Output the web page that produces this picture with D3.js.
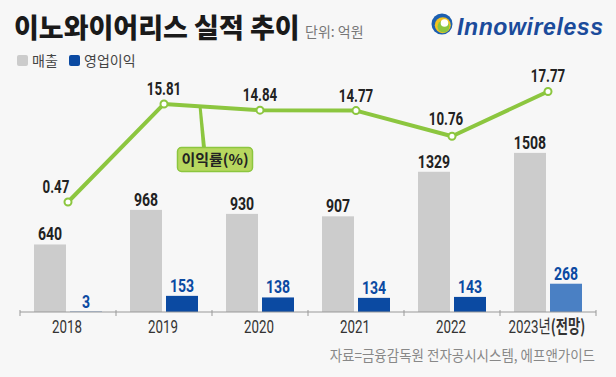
<!DOCTYPE html>
<html>
<head>
<meta charset="utf-8">
<script src="https://cdn.jsdelivr.net/npm/d3@7"></script>
<style>
  body { margin: 0; background: #f7f7f7; }
  svg { display: block; }
  .num { font-family: "Roboto", sans-serif; font-weight: 700; }
  .kr { font-family: "Noto Sans CJK KR", "Noto Sans", sans-serif; }
</style>
</head>
<body>
<div id="chart"></div>
<script>
// data
var years = ["2018", "2019", "2020", "2021", "2022", "2023"];
var yearLabels = ["2018", "2019", "2020", "2021", "2022", "2023"];
var sales = [640, 968, 930, 907, 1329, 1508];
var opIncome = [3, 153, 138, 134, 143, 268];
var margin = [0.47, 15.81, 14.84, 14.77, 10.76, 17.77];

var W = 616, H = 377;
var baseY = 312;
var squeeze = 0.74;

var svg = d3.select("#chart").append("svg")
    .attr("width", W)
    .attr("height", H);

svg.append("rect").attr("width", W).attr("height", H).attr("fill", "#f7f7f7");

// condensed text: scale horizontally around its anchor point
function condText(x0, y0, s) {
    return svg.append("g")
        .attr("transform", "translate(" + x0 + "," + y0 + ") scale(" + s + ",1)")
        .append("text");
}

// title
svg.append("text")
    .attr("class", "kr")
    .attr("x", 14).attr("y", 38)
    .attr("font-size", 27).attr("font-weight", 900)
    .attr("fill", "#1a1a1a")
    .text("이노와이어리스 실적 추이");

svg.append("text")
    .attr("class", "kr")
    .attr("x", 305).attr("y", 37)
    .attr("font-size", 14)
    .attr("fill", "#777")
    .text("단위: 억원");

// legend
var legend = [["매출", "#cccccc", 17], ["영업이익", "#0b4aa2", 69]];
legend.forEach(function(d) {
    svg.append("rect")
        .attr("x", d[2]).attr("y", 55).attr("width", 11).attr("height", 11)
        .attr("rx", 2).attr("fill", d[1]);
    svg.append("text")
        .attr("class", "kr")
        .attr("x", d[2] + 15).attr("y", 65.5)
        .attr("font-size", 14).attr("fill", "#444")
        .text(d[0]);
});

// logo
var logo = svg.append("g").attr("transform", "translate(442,24)");
logo.append("circle").attr("r", 10.5).attr("fill", "#1c5fb0");
logo.append("circle").attr("r", 8).attr("cx", 0.8).attr("cy", 1.2).attr("fill", "#f2c320");
logo.append("circle").attr("r", 6).attr("cx", 1.5).attr("cy", 2.5).attr("fill", "#8cc63f");
logo.append("circle").attr("r", 3.8).attr("cx", 2.5).attr("cy", -1).attr("fill", "#ffffff");
svg.append("text")
    .attr("x", 457).attr("y", 35)
    .attr("font-family", "Liberation Sans, Arial, sans-serif")
    .attr("font-size", 23).attr("font-weight", 700).attr("font-style", "italic")
    .attr("fill", "#1b4b9b")
    .attr("textLength", 146)
    .text("Innowireless");

// scales
var x = d3.scaleBand().domain(years).range([20, 596]);
var y = d3.scaleLinear().domain([0, 1600]).range([baseY, baseY - 168.8]);
var yl = d3.scaleLinear().domain([0, 20]).range([205, 77.2]);

function cx(d) { return x(d) + x.bandwidth() / 2; }

// bars
svg.selectAll(".sale").data(years).enter().append("rect")
    .attr("x", function(d) { return cx(d) - 34; })
    .attr("width", 32)
    .attr("y", function(d, i) { return y(sales[i]); })
    .attr("height", function(d, i) { return baseY - y(sales[i]); })
    .attr("fill", "#cccccc");

svg.selectAll(".op").data(years).enter().append("rect")
    .attr("x", function(d) { return cx(d) + 2; })
    .attr("width", 32)
    .attr("y", function(d, i) { return y(opIncome[i]); })
    .attr("height", function(d, i) { return baseY - y(opIncome[i]); })
    .attr("fill", function(d, i) { return i === 5 ? "#4a80c4" : "#0b4aa2"; });

years.forEach(function(d, i) {
    condText(cx(d) - 18, y(sales[i]) - 4, squeeze)
        .attr("class", "num")
        .attr("text-anchor", "middle")
        .attr("font-size", 19).attr("fill", "#222")
        .text(sales[i]);
    condText(cx(d) + 18, y(opIncome[i]) - 4, squeeze)
        .attr("class", "num")
        .attr("text-anchor", "middle")
        .attr("font-size", 19).attr("fill", "#0b4aa2")
        .text(opIncome[i]);
});

// x axis
var xAxis = d3.axisBottom(x).tickSize(0).tickFormat("");
var ax = svg.append("g").attr("transform", "translate(0," + baseY + ")").call(xAxis);
ax.select(".domain").attr("stroke", "#999").attr("d", "M20,0H596");
var tickPos = years.map(function(d) { return x(d); }).concat([596]);
ax.selectAll(".tk").data(tickPos).enter().append("line")
    .attr("x1", function(d) { return d; }).attr("x2", function(d) { return d; })
    .attr("y1", -2).attr("y2", 4)
    .attr("stroke", "#999");

years.forEach(function(d, i) {
    var t = condText(cx(d) - 1, 333, 0.74)
        .attr("text-anchor", "middle")
        .attr("font-family", "Roboto, sans-serif")
        .attr("font-size", 18).attr("fill", "#333");
    if (i === 5) {
        t.append("tspan").text(yearLabels[i]);
        t.append("tspan").attr("font-family", "Noto Sans CJK KR").attr("font-size", 18).text("년");
        t.append("tspan").attr("font-family", "Noto Sans CJK KR").attr("font-size", 18).attr("font-weight", 700).text("(전망)");
    } else {
        t.text(yearLabels[i]);
    }
});

// line
var lineGen = d3.line()
    .x(function(d) { return cx(d); })
    .y(function(d, i) { return yl(margin[i]); });

// leader to label box
svg.append("path")
    .attr("d", "M198.5," + (yl(15.5) - 0.5) + "L201.5," + (yl(15.5)) + "L206,148L202,148Z")
    .attr("fill", "#8cc63f");

svg.append("path")
    .datum(years)
    .attr("d", lineGen)
    .attr("fill", "none")
    .attr("stroke", "#8cc63f")
    .attr("stroke-width", 4)
    .attr("stroke-linejoin", "round");

svg.selectAll(".pt").data(years).enter().append("circle")
    .attr("cx", function(d) { return cx(d); })
    .attr("cy", function(d, i) { return yl(margin[i]); })
    .attr("r", 3.5)
    .attr("fill", "#fff")
    .attr("stroke", "#8cc63f")
    .attr("stroke-width", 2);

var lblDx = [-12, 0, 0, 0, -6, 0];
var lblDy = [-9, -9, -9, -9, -11, -9];
years.forEach(function(d, i) {
    condText(cx(d) + lblDx[i], yl(margin[i]) + lblDy[i], squeeze)
        .attr("class", "num")
        .attr("text-anchor", "middle")
        .attr("font-size", 18).attr("fill", "#222")
        .text(margin[i].toFixed(2));
});

// label box
svg.append("rect")
    .attr("x", 177.5).attr("y", 147.5).attr("width", 75).attr("height", 24)
    .attr("rx", 4)
    .attr("fill", "#b7d75f").attr("stroke", "#8cc63f").attr("stroke-width", 1.5);
svg.append("text")
    .attr("class", "kr")
    .attr("x", 215).attr("y", 165)
    .attr("text-anchor", "middle")
    .attr("font-size", 15).attr("font-weight", 700).attr("fill", "#222")
    .text("이익률(%)");

// source
condText(595, 361, 0.9)
    .attr("class", "kr")
    .attr("text-anchor", "end")
    .attr("font-size", 15).attr("fill", "#888")
    .text("자료=금융감독원 전자공시시스템, 에프앤가이드");
</script>
</body>
</html>
